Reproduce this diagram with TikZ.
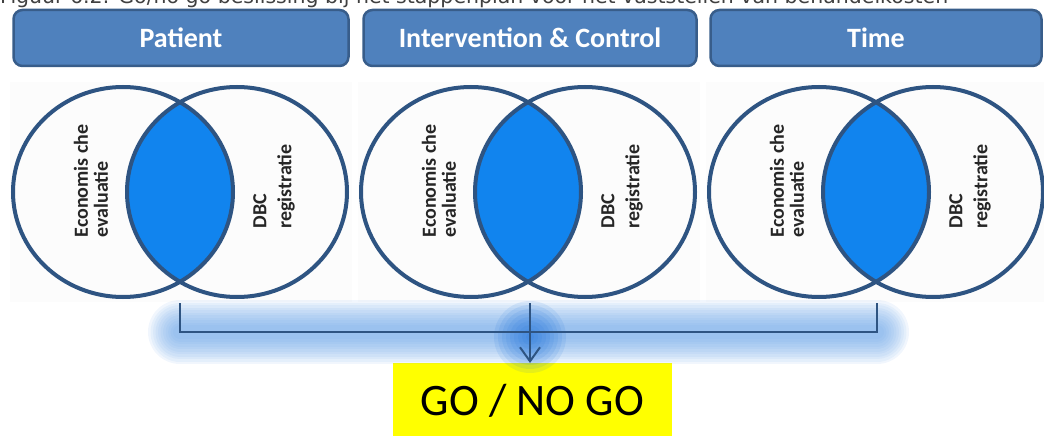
\documentclass[tikz,border=0pt]{standalone}
\usepackage{fontspec}
\setmainfont{Carlito}
\newfontfamily\capfont{DejaVu Sans}
\usetikzlibrary{arrows.meta}
\definecolor{hdrfill}{RGB}{79,129,189}
\definecolor{hdrline}{RGB}{56,93,138}
\definecolor{ringblue}{RGB}{46,84,130}
\definecolor{lensblue}{RGB}{17,132,238}
\definecolor{glowblue}{RGB}{100,160,230}
\definecolor{blobblue}{RGB}{30,115,220}
\definecolor{goyellow}{RGB}{255,255,0}

\begin{document}
\begin{tikzpicture}[x=1pt,y=-1pt,
  header/.style={draw=hdrline, line width=2.5pt, fill=hdrfill, rounded corners=9pt,
    text=white, font=\fontsize{28}{32}\selectfont\bfseries, minimum height=56pt, inner sep=0pt},
  ring/.style={draw=ringblue, line width=4pt},
  vlabel/.style={rotate=90, align=left, text=black!85, inner sep=0pt},
  link/.style={draw=ringblue, line width=2pt},
  panelbg/.style={fill=black!1},
]
\useasboundingbox (0,0) rectangle (1044,436);
\clip (0,0) rectangle (1044,436);

% caption line, running off the top edge
\node[anchor=base west, inner sep=0pt, font=\capfont\fontsize{20.5}{24}\selectfont, text=black!75]
  (cap) at (0,3.5) {Figuur 6.2: Go/no go beslissing bij het stappenplan voor het vaststellen van behandelkosten};

% header bars
\node[header, minimum width=335pt] (hp) at (181,38) {Patient};
\node[header, minimum width=333pt] (hi) at (530,38) {Intervention \& Control};
\node[header, minimum width=331pt] (ht) at (876,38) {Time};

% three Venn panels
\foreach \cx/\n in {180/1,528/2,876/3}{
  \fill[panelbg] (\cx-170,82) rectangle (\cx+172,302);
  \begin{scope}
    \clip (\cx-57,192) ellipse [x radius=110, y radius=105];
    \fill[lensblue] (\cx+57,192) ellipse [x radius=110, y radius=105];
  \end{scope}
  \draw[ring] (\cx-57,192) ellipse [x radius=110, y radius=105];
  \draw[ring] (\cx+57,192) ellipse [x radius=110, y radius=105];
  \node[vlabel, font=\fontsize{20}{20}\selectfont\bfseries] (econ\n) at (\cx-89,181) {Economis che\\evaluatie};
  \node[vlabel, font=\fontsize{20}{25}\selectfont\bfseries] (dbc\n) at (\cx+94,186.5) {DBC\\registratie};
}
\coordinate (lens1) at (180,303);
\coordinate (lens2) at (530,303);
\coordinate (lens3) at (877,303);
\coordinate (j) at (530,332);

% decision box
\node[fill=goyellow, minimum width=279pt, minimum height=76pt, inner sep=0pt, anchor=north,
  font=\fontsize{45}{50}\selectfont] (go) at (532.5,363) {GO / NO GO};

% soft glow behind the connector
\foreach \w in {64,59,...,14}
  \draw[glowblue, line width=\w pt, opacity=0.09, line cap=round] (lens1 |- j) -- (lens3 |- j);
\foreach \r in {36,32,...,4}
  \fill[blobblue, opacity=0.11] (530,337) circle (\r);

% connectors
\draw[link] (lens1) |- (j) -| (lens3);
\draw[link, -{Straight Barb[length=14pt,width=20pt]}] (lens2) -- (lens2 |- go.north);
\end{tikzpicture}
\end{document}
